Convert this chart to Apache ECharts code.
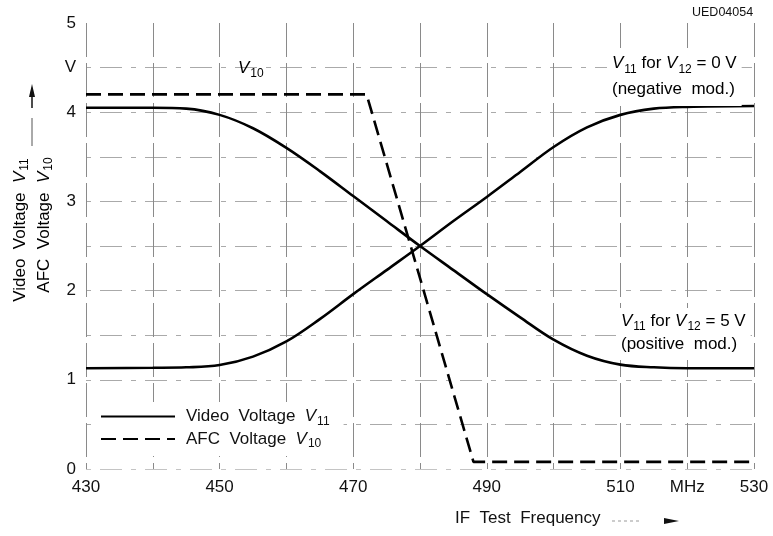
<!DOCTYPE html>
<html>
<head>
<meta charset="utf-8">
<script src="https://cdn.jsdelivr.net/npm/echarts@6/dist/echarts.min.js"></script>
<style>html,body{margin:0;padding:0;background:#fff}#c{width:773px;height:536px}</style>
</head>
<body>
<div id="c"></div>
<script>
// ---- data ----
var videoFreq = [430, 440, 445, 450, 455, 460, 465, 470, 475, 480, 485, 490, 495, 500, 505, 510, 515, 520, 530];
var videoPositive = [4.05, 4.05, 4.04, 3.97, 3.82, 3.60, 3.34, 3.06, 2.78, 2.50, 2.23, 1.96, 1.70, 1.45, 1.27, 1.17, 1.14, 1.13, 1.13];
var videoNegative = [1.13, 1.135, 1.14, 1.165, 1.26, 1.43, 1.68, 1.96, 2.23, 2.50, 2.78, 3.05, 3.33, 3.61, 3.83, 3.97, 4.04, 4.06, 4.07];
var afcFreq = [430, 472, 488, 530];
var afcVoltage = [4.2, 4.2, 0.08, 0.08];
var xTickLabels = ['430', '', '450', '', '470', '', '490', '', '510', 'MHz', '530'];
var yTickLabels = ['0', '', '1', '', '2', '', '3', '', '4', 'V', '5'];

function pairs(xs, ys) { return xs.map(function (x, i) { return [x, ys[i]]; }); }

var FONT = 'Liberation Sans';
var chart = echarts.init(document.getElementById('c'));
var yGridColors = ['#c4c4c4', '#aaa', '#aaa', '#aaa', '#aaa', '#aaa', '#aaa', '#aaa', '#aaa', '#aaa', 'rgba(0,0,0,0)'];

var subRich = {
  n: { fontFamily: FONT, fontSize: 17, color: '#111' },
  i: { fontFamily: FONT, fontSize: 17, fontStyle: 'italic', color: '#111' },
  s: { fontFamily: FONT, fontSize: 12, color: '#111', verticalAlign: 'bottom', padding: [10, 0, 0, 1] }
};

chart.setOption({
  animation: false,
  backgroundColor: '#fff',
  grid: { left: 86, right: 19, top: 23, bottom: 67 },
  xAxis: {
    type: 'value', min: 430, max: 530, interval: 10,
    axisLine: { show: false }, axisTick: { show: false },
    axisLabel: {
      color: '#111', fontFamily: FONT, fontSize: 17, margin: 10,
      showMinLabel: true, showMaxLabel: true,
      formatter: function (v, idx) { return xTickLabels[idx]; }
    },
    splitLine: { show: true, lineStyle: { color: '#8a8a8a', width: 1, type: [34, 6] } }
  },
  yAxis: {
    type: 'value', min: 0, max: 5, interval: 0.5,
    axisLine: { show: false }, axisTick: { show: false },
    axisLabel: {
      color: '#111', fontFamily: FONT, fontSize: 17, margin: 10,
      showMinLabel: true, showMaxLabel: true,
      formatter: function (v, idx) { return yTickLabels[idx]; }
    },
    splitLine: { show: true, lineStyle: { color: yGridColors, width: 1, type: [5, 9, 22, 9] } }
  },
  legend: {
    left: 92, top: 402, orient: 'vertical', itemWidth: 74, itemHeight: 14, itemGap: 3,
    backgroundColor: '#fff', padding: [6, 14, 6, 8],
    itemStyle: { opacity: 0 },
    data: ['Video Voltage', 'AFC Voltage'],
    textStyle: { rich: subRich, padding: [0, 0, 0, 6] },
    formatter: function (name) {
      return name === 'Video Voltage' ? '{n|Video  Voltage  }{i|V}{s|11}' : '{n|AFC  Voltage  }{i|V}{s|10}';
    }
  },
  series: [
    { name: 'Video Voltage', type: 'line', smooth: 0.35, symbol: 'none', z: 3,
      lineStyle: { color: '#000', width: 2.6 }, itemStyle: { color: '#000' },
      data: pairs(videoFreq, videoPositive) },
    { name: 'Video Voltage', type: 'line', smooth: 0.35, symbol: 'none', z: 3,
      lineStyle: { color: '#000', width: 2.6 }, itemStyle: { color: '#000' },
      data: pairs(videoFreq, videoNegative) },
    { name: 'AFC Voltage', type: 'line', smooth: false, symbol: 'none', z: 3,
      lineStyle: { color: '#000', width: 2.6, type: [15, 7] }, itemStyle: { color: '#000' },
      data: pairs(afcFreq, afcVoltage) }
  ],
  graphic: [
    { type: 'text', left: 692, top: 6, z: 10, style: { text: 'UED04054', font: '12.5px "' + FONT + '"', fill: '#111' } },
    { type: 'text', left: 238, top: 60, z: 10, style: { text: '{i|V}{s|10}', rich: subRich } },
    { type: 'text', left: 607, top: 48, z: 10,
      style: { text: '{i|V}{s|11}{n| for }{i|V}{s|12}{n| = 0 V}\n{n|(negative  mod.)}', rich: subRich,
        backgroundColor: '#fff', padding: [2, 5, 4, 5], lineHeight: 26 } },
    { type: 'text', left: 616, top: 308, z: 10,
      style: { text: '{i|V}{s|11}{n| for }{i|V}{s|12}{n| = 5 V}\n{n|(positive  mod.)}', rich: subRich,
        backgroundColor: '#fff', padding: [2, 5, 4, 5], lineHeight: 23 } },
    { type: 'text', x: 20, y: 230, rotation: Math.PI / 2, z: 10,
      style: { text: '{n|Video  Voltage  }{i|V}{s|11}', rich: subRich, align: 'center', verticalAlign: 'middle' } },
    { type: 'text', x: 44, y: 225, rotation: Math.PI / 2, z: 10,
      style: { text: '{n|AFC  Voltage  }{i|V}{s|10}', rich: subRich, align: 'center', verticalAlign: 'middle' } },
    { type: 'polygon', z: 10, shape: { points: [[32, 84], [29, 97], [35, 97]] }, style: { fill: '#111' } },
    { type: 'line', z: 10, shape: { x1: 32, y1: 96, x2: 32, y2: 108 }, style: { stroke: '#111', lineWidth: 1.5 } },
    { type: 'line', z: 10, shape: { x1: 32, y1: 118, x2: 32, y2: 146 }, style: { stroke: '#555', lineWidth: 1 } },
    { type: 'text', left: 455, top: 510, z: 10, style: { text: 'IF  Test  Frequency', font: '17px "' + FONT + '"', fill: '#111' } },
    { type: 'line', z: 10, shape: { x1: 612, y1: 521, x2: 640, y2: 521 }, style: { stroke: '#999', lineWidth: 1, lineDash: [3, 3] } },
    { type: 'polygon', z: 10, shape: { points: [[679, 521], [664, 518], [664, 524]] }, style: { fill: '#111' } }
  ]
});
</script>
</body>
</html>
